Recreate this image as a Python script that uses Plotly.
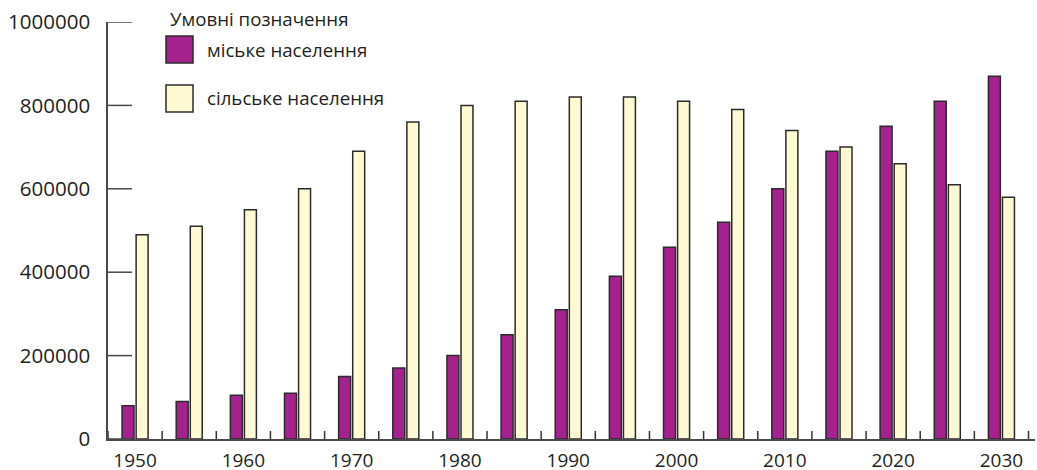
import plotly.graph_objects as go

years = [1950, 1955, 1960, 1965, 1970, 1975, 1980, 1985, 1990, 1995,
         2000, 2005, 2010, 2015, 2020, 2025, 2030]
urban = [80000, 90000, 105000, 110000, 150000, 170000, 200000, 250000, 310000,
         390000, 460000, 520000, 600000, 690000, 750000, 810000, 870000]
rural = [490000, 510000, 550000, 600000, 690000, 760000, 800000, 810000, 820000,
         820000, 810000, 790000, 740000, 700000, 660000, 610000, 580000]
x_labels = [1950, 1960, 1970, 1980, 1990, 2000, 2010, 2020, 2030]
y_ticks = [0, 200000, 400000, 600000, 800000, 1000000]
legend_title = "Умовні позначення"
urban_name = "міське населення"
rural_name = "сільське населення"

PURPLE = "#a5228e"
YELLOW = "#fffad2"
EDGE = "#2b2b2b"
TEXT = "#231f20"
AXIS = "#4a4a4a"
FONT = "Open Sans"

fig = go.Figure()
fig.add_trace(go.Bar(x=years, y=urban, name=urban_name, marker_color=PURPLE,
                     marker_line=dict(color=EDGE, width=1.5), showlegend=False))
fig.add_trace(go.Bar(x=years, y=rural, name=rural_name, marker_color=YELLOW,
                     marker_line=dict(color=EDGE, width=1.5), showlegend=False))

W, H = 1037, 470
L, R, T, B = 108, 2, 22, 31
pw, ph = W - L - R, H - T - B

def px(x):
    return (x - L) / pw

def py(y):
    return (H - B - y) / ph

fig.update_layout(
    width=W, height=H,
    margin=dict(l=L, r=R, t=T, b=B, autoexpand=False),
    paper_bgcolor="white", plot_bgcolor="white",
    barmode="group", bargap=0.48, bargroupgap=0.15,
    font=dict(family=FONT, size=20, color=TEXT),
)
fig.update_xaxes(
    range=[1947.5, 2033.1], automargin=False,
    tickmode="array", tickvals=x_labels, ticktext=[str(v) for v in x_labels],
    ticks="", showgrid=False, zeroline=False,
    showline=True, linecolor=AXIS, linewidth=1.5,
    ticklabelstandoff=3,
    tickfont=dict(family=FONT, size=19, color=TEXT),
)
fig.update_yaxes(
    range=[0, 1000000], automargin=False,
    tickmode="array", tickvals=y_ticks, ticktext=[str(v) for v in y_ticks],
    ticks="", showgrid=False, zeroline=False,
    showline=True, linecolor=AXIS, linewidth=1.5,
    ticklabelstandoff=12,
    tickfont=dict(family=FONT, size=20.5, color=TEXT),
)

# tick marks drawn as shapes (y ticks point inward, x ticks mark group boundaries)
for v in y_ticks:
    fig.add_shape(type="line", xref="paper", yref="y", x0=0, x1=24 / pw, y0=v, y1=v,
                  line=dict(color=AXIS, width=1.5), layer="above")
step = years[1] - years[0]
bounds = [years[0] - step / 2] + [y + step / 2 for y in years]
for b in bounds:
    fig.add_shape(type="line", xref="x", yref="paper", x0=b, x1=b, y0=0, y1=8 / ph,
                  line=dict(color="#333", width=1.5), layer="above")

# manual legend
fig.add_annotation(xref="paper", yref="paper", x=px(168), y=py(18),
                   text=legend_title, showarrow=False, xanchor="left", yanchor="middle",
                   font=dict(family=FONT, size=18.7, color=TEXT))
for (top, bot, col, name, ty) in [(36, 63, PURPLE, urban_name, 49),
                                   (85, 112, YELLOW, rural_name, 98)]:
    fig.add_shape(type="rect", xref="paper", yref="paper",
                  x0=px(166), x1=px(193), y0=py(bot), y1=py(top),
                  fillcolor=col, line=dict(color=EDGE, width=1.5))
    fig.add_annotation(xref="paper", yref="paper", x=px(205), y=py(ty),
                       text=name, showarrow=False, xanchor="left", yanchor="middle",
                       font=dict(family=FONT, size=18.7, color=TEXT))

fig.write_html("out.html", config={"displayModeBar": False},
               post_script="document.body.style.margin='0';")
